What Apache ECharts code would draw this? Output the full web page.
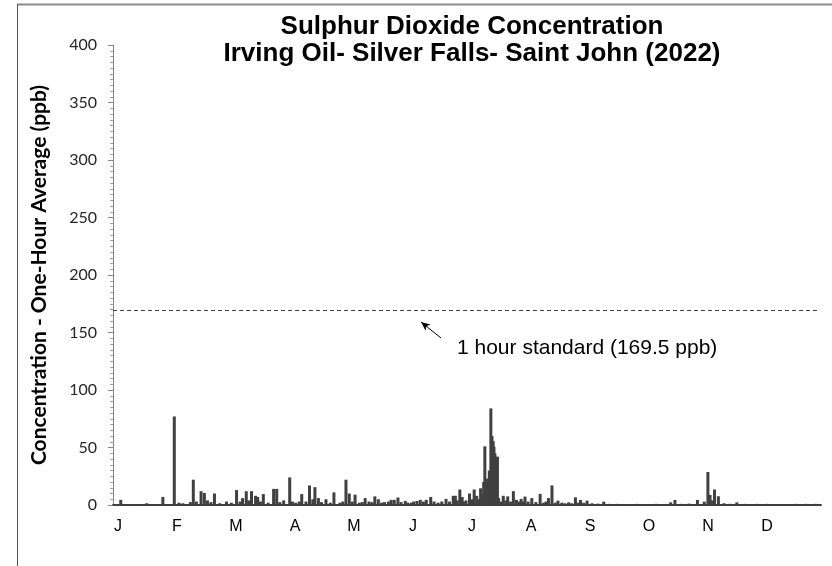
<!DOCTYPE html>
<html>
<head>
<meta charset="utf-8">
<script src="https://cdn.jsdelivr.net/npm/echarts@6/dist/echarts.min.js"></script>
<style>html,body{margin:0;padding:0;background:#fff;}#c{width:832px;height:566px;}</style>
</head>
<body>
<div id="c"></div>
<script>
// Month tick labels
const monthLabels = ['J','F','M','A','M','J','J','A','S','O','N','D'];
// Day of year (0 = Jan 1) of each peak
const peakDays = [4.0,10,17.4,25.7,31.6,34,36,39.9,41.4,43,45.4,47.1,48.7,50.5,52.3,55,58.5,61,63.7,65.5,66.8,68.7,70,71.4,73.5,74.6,76,77.5,80,82.8,84.4,86,88,91.1,92.5,94.2,96,97.3,99.5,101.3,103,104.1,105.9,107.5,109.8,112,113.9,117,118.5,120.1,121.8,123.3,124.8,127,128.5,130,132,133.5,135,136.8,138.5,140,142,143.4,145,146.9,148.5,150.7,152,153.8,155,156.7,158.4,160,161.5,163.8,165.5,167.6,169.5,171.7,173.5,175.4,176.5,177.5,178.8,180,181,182,183.8,185,186.2,187.5,188.5,189.5,190.5,191.1,191.7,192.3,193.1,194,194.8,195.4,196,196.4,196.9,197.3,197.8,198.2,198.8,200,201.2,202.5,203.5,205,206.4,208,209.2,210.4,211.4,212.4,214,215.9,218,220.2,222,223.3,224.5,226.3,228,229.4,231.4,233,234.9,236.5,238.4,239.7,241,242.7,244.4,247,250,253,256,260,265,270,275,280,287.5,289.7,293,297,301.3,304.8,306.7,307.8,309,310.1,312.1,315,318,321.6,326,332,337,345,352,357,362];
// SO2 one-hour concentration (ppb) at those days
const peakValues = [4.5,0.8,1.5,7,77,2,1.5,2.5,22,3,12,10.5,4,2.5,10,1.5,3,2,13,3,6,12,4,12,8,7,3,9.5,2,14,14,2.5,4,24,3,2,3,9.5,3,17,5,15.5,6,2.5,5,2,11,2,3,22,10,3,9,2,2.5,6,3,2.5,7.5,5,2,2.5,3,4.5,4.5,6.5,2.5,3.5,2,2,3,3.5,4.5,3,4.5,7,3,2,3,5.3,3,8,8,4,13.5,7,3,4,10,5,13.5,8,5,14.5,10,20,51,18,23,30,84,60,55.6,50.7,45,42,40,42,6,3,8,4,7.5,3,12,4.5,3,5.3,3,7.3,3,6,2.5,9.7,2,3,6,17,2,3.8,2,1.5,2.3,1.5,6.7,2,4.4,2,3.8,1.5,1.2,2.9,1,1,0.8,1,0.8,1,2.3,4.4,1,1.2,4.4,2.9,28.7,8.8,4,13.5,7.6,1.5,1,2.3,1,1,1,0.8,1,1,1];
// Standard
const standardValue = 169.5;
const standardLabel = '1 hour standard (169.5 ppb)';
const titleLines = ['Sulphur Dioxide Concentration','Irving Oil- Silver Falls- Saint John (2022)'];
const yAxisTitle = 'Concentration - One-Hour Average (ppb)';

const chart = echarts.init(document.getElementById('c'), null, {renderer:'canvas'});
const monthStep = 365/12;
const seriesData = peakDays.map((d,i)=>[d, peakValues[i]]);

chart.setOption({
  animation:false,
  backgroundColor:'#fff',
  title:{
    text: titleLines.join('\n'),
    left: 467, top: 8, textAlign:'center',
    textStyle:{fontFamily:'Liberation Sans, Arial', fontWeight:'bold', fontSize:26, color:'#000', lineHeight:27}
  },
  grid:{left:113, right:11, top:45, bottom:61, containLabel:false},
  xAxis:{
    type:'value', min:0, max:365, interval:monthStep,
    axisLine:{show:true, lineStyle:{color:'#404040', width:2}},
    axisTick:{show:false},
    splitLine:{show:false},
    axisLabel:{
      margin:14, padding:[0,0,0,10],
      fontFamily:'Liberation Sans, Arial', fontSize:16, color:'#000',
      formatter:function(v){const i=Math.round(v/monthStep); return i<12?monthLabels[i]:'';},
      showMaxLabel:false
    }
  },
  yAxis:{
    type:'value', min:0, max:400, interval:50,
    name: yAxisTitle, nameLocation:'middle', nameGap:63, nameRotate:90,
    nameTextStyle:{fontFamily:'Lato', fontWeight:'bold', fontSize:21, color:'#000'},
    axisLine:{show:true, lineStyle:{color:'#868686', width:1}},
    axisTick:{show:true, length:5, lineStyle:{color:'#868686'}},
    minorTick:{show:true, splitNumber:10, length:3, lineStyle:{color:'#a0a0a0'}},
    splitLine:{show:false},
    axisLabel:{margin:16, fontFamily:'Lato', fontSize:16, color:'#262626'}
  },
  series:[{
    type:'bar',
    data: seriesData,
    barWidth:3,
    itemStyle:{color:'#404040'},
    markLine:{
      silent:true,
      animation:false,
      data:[
        [{yAxis:standardValue, x:113, symbol:'none', lineStyle:{type:[4,3], color:'#404040', width:1}},
         {yAxis:standardValue, x:818, symbol:'none'}],
        [{coord:[169.1,145.2], symbol:'none', lineStyle:{type:'solid', color:'#000', width:1}},
         {coord:[158.8,159.1], symbol:'arrow', symbolSize:[6,9]}]
      ],
      label:{show:false}
    }
  }],
  graphic:[
    {type:'line', shape:{x1:17, y1:4.5, x2:832, y2:4.5}, style:{stroke:'#8c8c8c', lineWidth:2}, silent:true},
    {type:'line', shape:{x1:17.5, y1:4, x2:17.5, y2:566}, style:{stroke:'#555', lineWidth:1}, silent:true},
    {type:'text', left:457, top:338, style:{text:standardLabel, fontFamily:'Liberation Sans, Arial', fontSize:21, fill:'#000'}}
  ]
});
</script>
</body>
</html>
